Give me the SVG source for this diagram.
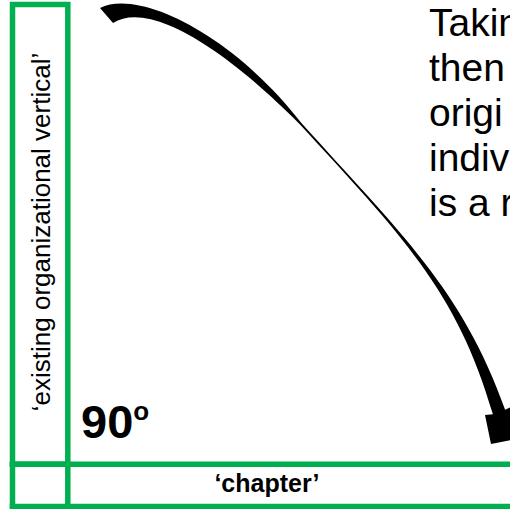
<svg xmlns="http://www.w3.org/2000/svg" width="510" height="509" viewBox="0 0 510 509">
<style>
.g{fill:none;stroke:#00B050;stroke-width:5.5}
.t{font-family:"Liberation Sans",Arial,sans-serif;fill:#000}
.b{font-size:39px}
</style>
<rect width="510" height="509" fill="#fff"/>
<g id="vertical-box">
<rect class="g" x="12.5" y="4.5" width="55.3" height="459.7"/>
<text class="t" font-size="26" text-anchor="middle" transform="translate(50,232) rotate(-90)">‘existing organizational vertical’</text>
</g>
<g id="chapter-row">
<line class="g" x1="9.75" y1="464.2" x2="515" y2="464.2"/>
<line class="g" x1="9.75" y1="506.5" x2="515" y2="506.5"/>
<line class="g" x1="12.5" y1="462" x2="12.5" y2="509"/>
<line class="g" x1="67.8" y1="462" x2="67.8" y2="509"/>
<text class="t" font-size="25" font-weight="bold" text-anchor="middle" x="267" y="492">‘chapter’</text>
</g>
<g id="angle-label">
<text class="t" font-size="47" font-weight="bold" x="81" y="438">90<tspan font-size="26" dy="-18">o</tspan></text>
</g>
<g id="body-text">
<text class="t b" x="429" y="36">Takin</text>
<text class="t b" x="429" y="81">then</text>
<text class="t b" x="429" y="126">origi</text>
<text class="t b" x="429" y="171">indiv</text>
<text class="t b" x="429" y="216">is a r</text>
</g>
<g id="connectors">
<path d="M100,8 C140,-12 235,37 300.74,122.33 C400.15,232.87 462.35,289.15 505.1,409.7 L522,402 L522,438 L491,444 L485,415 L492.9,414.3 C457.65,290.85 399.85,233.13 299.26,123.67 C226,50 150,0 113,23 Z" fill="#000"/>
</g>
</svg>
